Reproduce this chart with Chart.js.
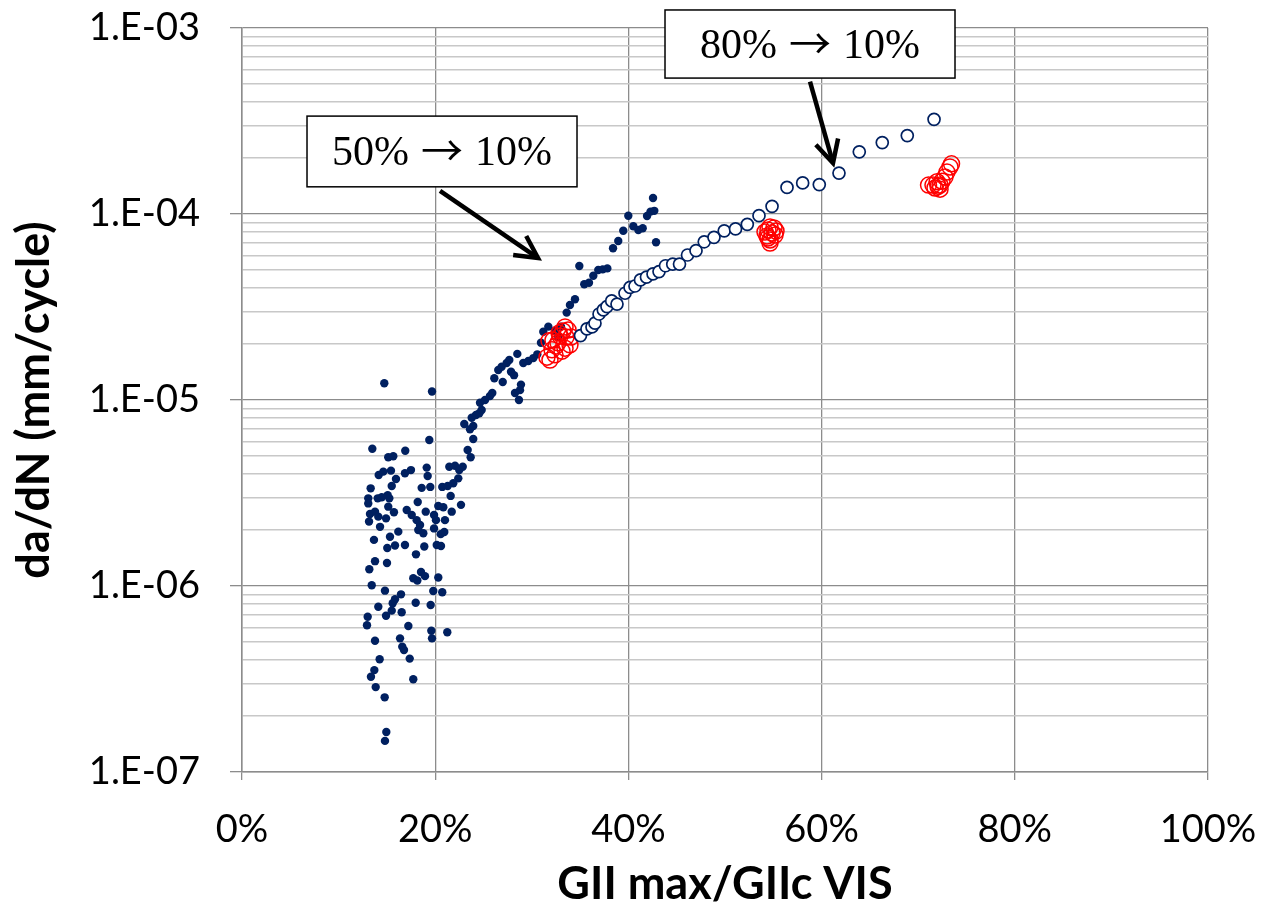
<!DOCTYPE html>
<html>
<head>
<meta charset="utf-8">
<title>da/dN vs GII max/GIIc VIS</title>
<script src="https://cdn.jsdelivr.net/npm/chart.js@4.4.1/dist/chart.umd.min.js"></script>
<style>
  html, body { margin: 0; padding: 0; background: #ffffff; }
  #wrap { width: 1261px; height: 903px; }
</style>
</head>
<body>
<div id="wrap"><canvas id="c" width="1261" height="903"></canvas></div>
<script>
// Fatigue data: GII max / GIIc VIS (fraction) against da/dN (mm/cycle)

// Filled markers
const filledX = [
  0.1473, 0.1967, 0.2301, 0.2378, 0.2360, 0.2394, 0.1939, 0.1349, 0.1690, 0.1514,
  0.1566, 0.2336, 0.2367, 0.2146, 0.2205, 0.2285, 0.1415, 0.1463, 0.1542, 0.1594,
  0.1687, 0.1749, 0.1912, 0.1922, 0.2249, 0.2239, 0.2187, 0.1332, 0.1550, 0.1860,
  0.1949, 0.2073, 0.2129, 0.1307, 0.1307, 0.1405, 0.1446, 0.1508, 0.1525, 0.1819,
  0.2160, 0.1514, 0.1573, 0.1705, 0.1757, 0.1808, 0.1902, 0.2032, 0.2084, 0.2267,
  0.2171, 0.1325, 0.1377, 0.1411, 0.1315, 0.1429, 0.1491, 0.1988, 0.2008, 0.2101,
  0.1825, 0.1877, 0.1988, 0.2057, 0.2094, 0.1532, 0.1618, 0.1366, 0.1504, 0.1584,
  0.1687, 0.1887, 0.2016, 0.2060, 0.1801, 0.1377, 0.1501, 0.1318, 0.1853, 0.1894,
  0.1773, 0.1815, 0.2032, 0.1343, 0.1480, 0.1646, 0.1584, 0.1560, 0.1980, 0.2073,
  0.1798, 0.1953, 0.1411, 0.1550, 0.1491, 0.1653, 0.1301, 0.1294, 0.1722, 0.1960,
  0.1967, 0.2125, 0.1377, 0.1636, 0.1659, 0.1677, 0.1736, 0.1425, 0.1370, 0.1335,
  0.1773, 0.1384, 0.1477, 0.1494, 0.1480, 0.1843,
  0.2394, 0.2422, 0.2457, 0.2481, 0.2464, 0.2516, 0.2567, 0.2591, 0.2612, 0.2653,
  0.2688, 0.2740, 0.2767, 0.2699, 0.2785, 0.2816, 0.2888, 0.2878, 0.2826, 0.2867,
  0.2850, 0.2912, 0.2964, 0.3016, 0.3057, 0.3095, 0.3119, 0.3171, 0.3240, 0.3274,
  0.3302, 0.3361, 0.3395, 0.3447, 0.3492, 0.3543, 0.3592, 0.3637, 0.3688, 0.3734,
  0.3782, 0.3841, 0.3895, 0.3947, 0.3999, 0.4051, 0.4103, 0.4148, 0.4193, 0.4229,
  0.4268, 0.4255, 0.4286
];
const filledY = [
  1.23e-5, 1.11e-5, 7.43e-6, 8.03e-6, 6.96e-6, 6.17e-6, 6.09e-6, 5.47e-6, 5.34e-6, 4.92e-6,
  4.98e-6, 5.38e-6, 4.92e-6, 4.38e-6, 4.43e-6, 4.38e-6, 3.95e-6, 4.12e-6, 4.17e-6, 3.76e-6,
  4.04e-6, 4.20e-6, 4.33e-6, 3.90e-6, 4.20e-6, 3.79e-6, 3.57e-6, 3.35e-6, 3.45e-6, 3.37e-6,
  3.41e-6, 3.41e-6, 3.45e-6, 2.96e-6, 2.78e-6, 2.96e-6, 3.00e-6, 3.08e-6, 2.96e-6, 2.83e-6,
  3.05e-6, 2.67e-6, 2.49e-6, 2.56e-6, 2.41e-6, 2.26e-6, 2.51e-6, 2.69e-6, 2.65e-6, 2.73e-6,
  2.51e-6, 2.44e-6, 2.51e-6, 2.36e-6, 2.22e-6, 2.08e-6, 2.31e-6, 2.41e-6, 2.26e-6, 2.26e-6,
  2.00e-6, 1.92e-6, 2.04e-6, 1.90e-6, 1.95e-6, 1.84e-6, 1.96e-6, 1.77e-6, 1.60e-6, 1.65e-6,
  1.66e-6, 1.63e-6, 1.66e-6, 1.64e-6, 1.48e-6, 1.36e-6, 1.33e-6, 1.23e-6, 1.19e-6, 1.13e-6,
  1.10e-6, 1.07e-6, 1.11e-6, 1.01e-6, 9.44e-7, 9.02e-7, 8.48e-7, 8.07e-7, 9.40e-7, 9.25e-7,
  8.13e-7, 7.90e-7, 7.74e-7, 7.37e-7, 6.92e-7, 7.22e-7, 6.84e-7, 6.15e-7, 6.09e-7, 5.75e-7,
  5.23e-7, 5.64e-7, 5.08e-7, 5.23e-7, 4.72e-7, 4.53e-7, 4.07e-7, 4.04e-7, 3.53e-7, 3.25e-7,
  3.15e-7, 2.86e-7, 2.52e-7, 1.64e-7, 1.47e-7, 2.13e-6,
  7.25e-6, 8.31e-6, 8.48e-6, 8.84e-6, 9.67e-6, 1.00e-5, 1.05e-5, 1.09e-5, 1.31e-5, 1.45e-5,
  1.51e-5, 1.58e-5, 1.64e-5, 1.25e-5, 1.42e-5, 1.36e-5, 1.21e-5, 1.13e-5, 1.09e-5, 1.00e-5,
  1.77e-5, 1.58e-5, 1.62e-5, 1.68e-5, 1.76e-5, 2.03e-5, 2.33e-5, 2.48e-5, 2.36e-5, 2.19e-5,
  2.48e-5, 2.95e-5, 3.24e-5, 3.48e-5, 5.25e-5, 4.19e-5, 4.27e-5, 4.66e-5, 5.00e-5, 5.04e-5,
  5.10e-5, 6.54e-5, 7.16e-5, 8.13e-5, 9.79e-5, 8.59e-5, 8.20e-5, 8.38e-5, 9.76e-5, 1.03e-4,
  1.04e-4, 1.22e-4, 7.05e-5
];

// Hollow navy markers
const openX = [
  0.3504, 0.3571, 0.3623, 0.3654, 0.3696, 0.3740, 0.3778, 0.3827, 0.3882, 0.3965,
  0.4017, 0.4068, 0.4125, 0.4187, 0.4255, 0.4317, 0.4384, 0.4459, 0.4529, 0.4612,
  0.4700, 0.4785, 0.4886, 0.4992, 0.5109, 0.5231, 0.5352, 0.5487, 0.5642, 0.5804,
  0.5976, 0.6180, 0.6390, 0.6628, 0.6887, 0.7164
];
const openY = [
  2.22e-5, 2.41e-5, 2.47e-5, 2.59e-5, 2.90e-5, 3.05e-5, 3.18e-5, 3.41e-5, 3.28e-5, 3.75e-5,
  4.03e-5, 4.10e-5, 4.42e-5, 4.58e-5, 4.76e-5, 4.90e-5, 5.27e-5, 5.37e-5, 5.38e-5, 6.02e-5,
  6.35e-5, 7.09e-5, 7.49e-5, 8.12e-5, 8.31e-5, 8.80e-5, 9.79e-5, 1.10e-4, 1.39e-4, 1.47e-4,
  1.44e-4, 1.66e-4, 2.16e-4, 2.42e-4, 2.64e-4, 3.23e-4
];

// Red hollow markers
const redX = [
  0.3157, 0.3188, 0.3209, 0.3240, 0.3219, 0.3251, 0.3271, 0.3292, 0.3313, 0.3323,
  0.3344, 0.3354, 0.3375, 0.3395, 0.3406, 0.3344, 0.3178, 0.3282,
  0.5414, 0.5445, 0.5466, 0.5487, 0.5445, 0.5466, 0.5435, 0.5507, 0.5518, 0.5528, 0.5466,
  0.7107, 0.7153, 0.7174, 0.7195, 0.7226, 0.7226, 0.7246, 0.7277, 0.7298, 0.7329, 0.7345, 0.7205
];
const redY = [
  1.70e-5, 1.64e-5, 1.86e-5, 1.75e-5, 2.10e-5, 1.95e-5, 2.03e-5, 2.21e-5, 1.83e-5, 2.35e-5,
  2.47e-5, 2.18e-5, 2.38e-5, 1.98e-5, 2.18e-5, 1.90e-5, 2.08e-5, 2.29e-5,
  8.00e-5, 8.20e-5, 8.51e-5, 7.90e-5, 7.43e-5, 6.98e-5, 7.62e-5, 8.41e-5, 7.71e-5, 8.10e-5, 7.25e-5,
  1.43e-4, 1.43e-4, 1.38e-4, 1.49e-4, 1.36e-4, 1.43e-4, 1.50e-4, 1.58e-4, 1.68e-4, 1.79e-4, 1.86e-4, 1.41e-4
];

// Axis ticks
const xTickValues = [0, 0.2, 0.4, 0.6, 0.8, 1.0];
const xTickLabels = ['0%', '20%', '40%', '60%', '80%', '100%'];
const yDecades = [1e-7, 1e-6, 1e-5, 1e-4, 1e-3];
const yTickLabels = ['1.E-07', '1.E-06', '1.E-05', '1.E-04', '1.E-03'];

// Callout boxes with arrows (box: [xLeft, xRight, yTop, yBottom] in data units)
const callouts = [
  { parts: ['50%', '\u2192', '10%'], box: [0.0673, 0.3468, 3.36e-4, 1.40e-4], from: [0.2050, 1.33e-4], to: [0.3064, 5.80e-5] },
  { parts: ['80%', '\u2192', '10%'], box: [0.4379, 0.7381, 1.25e-3, 5.38e-4], from: [0.5880, 5.15e-4], to: [0.6118, 1.88e-4] }
];

const pts = (xs, ys) => xs.map((x, i) => ({ x: x, y: ys[i] }));

const NAVY = '#002060';
const MAJOR_GRID = '#8c8c8c';
const MINOR_GRID = '#c8c8c8';
const TICK_FONT = { family: 'Lato, "DejaVu Sans", sans-serif', size: 38 };
const TITLE_FONT = { family: 'Lato, "DejaVu Sans", sans-serif', size: 45, weight: 'bold', lineHeight: 0.8 };
const SERIF = '"Liberation Serif", "Times New Roman", serif';
const ARROW_FONT = '"Noto Sans CJK JP", "DejaVu Serif", serif';

const isDecade = v => yDecades.some(d => Math.abs(v - d) / d < 1e-6);

// Log gridlines at 1..9 x 10^n
const yGridValues = [];
for (let i = 0; i < yDecades.length - 1; i++) {
  for (let m = 1; m <= 9; m++) yGridValues.push(m * yDecades[i]);
}
yGridValues.push(yDecades[yDecades.length - 1]);

const calloutPlugin = {
  id: 'callouts',
  afterDraw(chart) {
    const { ctx, scales } = chart;
    const sx = scales.x, sy = scales.y;
    ctx.save();
    callouts.forEach(c => {
      const x0 = sx.getPixelForValue(c.box[0]);
      const x1 = sx.getPixelForValue(c.box[1]);
      const y0 = sy.getPixelForValue(c.box[2]);
      const y1 = sy.getPixelForValue(c.box[3]);
      ctx.fillStyle = '#ffffff';
      ctx.fillRect(x0, y0, x1 - x0, y1 - y0);
      ctx.strokeStyle = '#000000';
      ctx.lineWidth = 1.5;
      ctx.strokeRect(x0, y0, x1 - x0, y1 - y0);

      // label: number, arrow glyph, number
      const gap = 12;
      ctx.fillStyle = '#000000';
      ctx.textBaseline = 'alphabetic';
      ctx.textAlign = 'left';
      ctx.font = '42px ' + SERIF;
      const wA = ctx.measureText(c.parts[0]).width;
      const wC = ctx.measureText(c.parts[2]).width;
      ctx.font = '42px ' + ARROW_FONT;
      const wB = ctx.measureText(c.parts[1]).width;
      let tx = (x0 + x1) / 2 - (wA + wB + wC + 2 * gap) / 2;
      const base = (y0 + y1) / 2 + 14;
      ctx.font = '42px ' + SERIF;
      ctx.fillText(c.parts[0], tx, base);
      tx += wA + gap;
      ctx.font = '42px ' + ARROW_FONT;
      ctx.fillText(c.parts[1], tx, base + 1);
      tx += wB + gap;
      ctx.font = '42px ' + SERIF;
      ctx.fillText(c.parts[2], tx, base);

      // arrow
      const ax = sx.getPixelForValue(c.from[0]);
      const ay = sy.getPixelForValue(c.from[1]);
      const bx = sx.getPixelForValue(c.to[0]);
      const by = sy.getPixelForValue(c.to[1]);
      const ang = Math.atan2(by - ay, bx - ax);
      ctx.strokeStyle = '#000000';
      ctx.lineWidth = 4.5;
      ctx.lineCap = 'butt';
      ctx.lineJoin = 'miter';
      ctx.beginPath();
      ctx.moveTo(ax, ay);
      ctx.lineTo(bx - 3 * Math.cos(ang), by - 3 * Math.sin(ang));
      ctx.stroke();
      const headLen = 25, spread = 0.48;
      ctx.beginPath();
      ctx.moveTo(bx - headLen * Math.cos(ang - spread), by - headLen * Math.sin(ang - spread));
      ctx.lineTo(bx, by);
      ctx.lineTo(bx - headLen * Math.cos(ang + spread), by - headLen * Math.sin(ang + spread));
      ctx.stroke();
    });
    ctx.restore();
  }
};

new Chart(document.getElementById('c'), {
  type: 'scatter',
  data: {
    datasets: [
      {
        label: 'hollow',
        data: pts(openX, openY),
        pointStyle: 'circle',
        pointRadius: 6,
        borderWidth: 1.7,
        borderColor: NAVY,
        backgroundColor: '#ffffff',
        order: 0
      },
      {
        label: 'red',
        data: pts(redX, redY),
        pointStyle: 'circle',
        pointRadius: 8,
        borderWidth: 1.5,
        borderColor: '#ff0000',
        backgroundColor: 'rgba(255,255,255,0)',
        order: 1
      },
      {
        label: 'filled',
        data: pts(filledX, filledY),
        pointStyle: 'circle',
        pointRadius: 4.2,
        borderWidth: 0,
        borderColor: NAVY,
        backgroundColor: NAVY,
        order: 2
      }
    ]
  },
  options: {
    responsive: false,
    animation: false,
    events: [],
    layout: { padding: { top: 28, right: 53, left: 0, bottom: 0 } },
    plugins: { legend: { display: false }, tooltip: { enabled: false } },
    scales: {
      x: {
        type: 'linear',
        min: 0,
        max: 1,
        afterBuildTicks: s => { s.ticks = xTickValues.map(v => ({ value: v })); },
        afterFit: s => { s.height = 131; s.paddingLeft = 0; s.paddingRight = 0; },
        ticks: {
          color: '#000000',
          font: TICK_FONT,
          padding: 27,
          maxRotation: 0,
          autoSkip: false,
          callback: (v, i) => xTickLabels[i]
        },
        grid: { color: MAJOR_GRID, lineWidth: 1.3, tickLength: 8, tickColor: MAJOR_GRID },
        border: { display: true, color: MAJOR_GRID, width: 1.5 },
        title: { display: true, text: 'GII max/GIIc VIS', color: '#000000', font: TITLE_FONT, padding: { top: 0, bottom: 1 } }
      },
      y: {
        type: 'logarithmic',
        min: 1e-7,
        max: 1e-3,
        afterBuildTicks: s => { s.ticks = yGridValues.map(v => ({ value: v, major: isDecade(v) })); },
        afterFit: s => { s.width = 242; s.paddingTop = 0; s.paddingBottom = 0; },
        ticks: {
          color: '#000000',
          font: TICK_FONT,
          padding: 30,
          autoSkip: false,
          callback: v => {
            const i = yDecades.findIndex(d => Math.abs(v - d) / d < 1e-6);
            return i >= 0 ? yTickLabels[i] : '';
          }
        },
        grid: {
          color: c => (c.tick && isDecade(c.tick.value)) ? MAJOR_GRID : MINOR_GRID,
          lineWidth: c => (c.tick && isDecade(c.tick.value)) ? 1.3 : 1.5,
          tickLength: 12,
          tickColor: c => (c.tick && isDecade(c.tick.value)) ? MAJOR_GRID : 'rgba(0,0,0,0)'
        },
        border: { display: true, color: MAJOR_GRID, width: 1.5 },
        title: { display: true, text: 'da/dN (mm/cycle)', color: '#000000', font: TITLE_FONT, padding: { top: 16, bottom: 0 } }
      }
    }
  },
  plugins: [calloutPlugin]
});
</script>
</body>
</html>
